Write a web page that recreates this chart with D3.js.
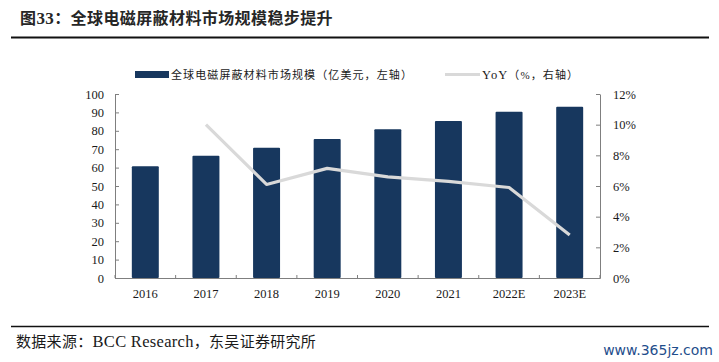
<!DOCTYPE html>
<html>
<head>
<meta charset="utf-8">
<script src="https://cdn.jsdelivr.net/npm/d3@7"></script>
<style>
  body { margin: 0; background: #fff; }
  svg { display: block; }
</style>
</head>
<body>
<div id="chart"></div>
<script>

// data
var years = ['2016', '2017', '2018', '2019', '2020', '2021', '2022E', '2023E'];
var market = [60.7, 66.5, 70.8, 75.5, 80.8, 85.3, 90.4, 93.1];
var yoy = [null, 10.0, 6.1, 7.15, 6.6, 6.3, 5.9, 2.8];
var leftTicks = [0, 10, 20, 30, 40, 50, 60, 70, 80, 90, 100];
var rightTicks = [0, 2, 4, 6, 8, 10, 12];

var chart_width  = 719;
var chart_height = 362;
var plot = { left: 115, right: 600, top: 94, bottom: 278 };

var serif = '"Liberation Serif", "Times New Roman", serif';
var cjk = '"Noto Sans CJK SC", sans-serif';

var svg = d3.select('#chart')
  .append('svg')
  .attr('width', chart_width)
  .attr('height', chart_height);

// writes text made of [string, isLatin] pieces, latin pieces in serif
function mixedText(el, parts) {
  parts.forEach(function(p) {
    el.append('tspan')
      .attr('font-family', p[1] ? serif : cjk)
      .text(p[0]);
  });
  return el;
}

// title
var title = svg.append('text')
  .attr('x', 20)
  .attr('y', 24)
  .attr('font-size', 16)
  .attr('font-weight', 700)
  .attr('letter-spacing', 0.4)
  .attr('fill', '#262626');
mixedText(title, [['图', false], ['33', true], ['：全球电磁屏蔽材料市场规模稳步提升', false]]);
title.select('tspan:nth-child(2)').attr('font-size', 17);

svg.append('line')
  .attr('x1', 11).attr('x2', 709)
  .attr('y1', 37.5).attr('y2', 37.5)
  .attr('stroke', '#111').attr('stroke-width', 2);

// scales
var x_scale = d3.scaleBand()
  .domain(years)
  .range([plot.left, plot.right])
  .paddingInner(0.555)
  .paddingOuter(0.2775);

var y_scale = d3.scaleLinear()
  .domain([0, 100])
  .range([plot.bottom, plot.top]);

var y2_scale = d3.scaleLinear()
  .domain([0, 12])
  .range([plot.bottom, plot.top]);

// bars
svg.selectAll('rect.bar')
  .data(market)
  .enter()
  .append('rect')
  .attr('class', 'bar')
  .attr('x', function(d, i) { return x_scale(years[i]); })
  .attr('y', function(d) { return y_scale(d); })
  .attr('width', x_scale.bandwidth())
  .attr('height', function(d) { return plot.bottom - y_scale(d); })
  .attr('rx', 1)
  .attr('fill', '#17375e');

// yoy line
var line = d3.line()
  .defined(function(d) { return d != null; })
  .x(function(d, i) { return x_scale(years[i]) + x_scale.bandwidth() / 2; })
  .y(function(d) { return y2_scale(d); });

svg.append('path')
  .datum(yoy)
  .attr('d', line)
  .attr('fill', 'none')
  .attr('stroke', '#d9d9d9')
  .attr('stroke-width', 3.2)
  .attr('stroke-linejoin', 'round');

// axes
var y_axis = d3.axisLeft(y_scale)
  .tickValues(leftTicks)
  .tickSizeInner(-4)
  .tickSizeOuter(0)
  .tickPadding(11);

var gl = svg.append('g')
  .attr('transform', 'translate(' + plot.left + ',0)')
  .call(y_axis);

var y2_axis = d3.axisRight(y2_scale)
  .tickValues(rightTicks)
  .tickFormat(function(d) { return d + '%'; })
  .tickSizeInner(-4)
  .tickSizeOuter(0)
  .tickPadding(13);

var gr = svg.append('g')
  .attr('transform', 'translate(' + plot.right + ',0)')
  .call(y2_axis);

var x_axis = d3.axisBottom(x_scale)
  .tickSize(0)
  .tickPadding(11);

var gx = svg.append('g')
  .attr('transform', 'translate(0,' + plot.bottom + ')')
  .call(x_axis);

// small ticks between categories on the x axis
var step = x_scale.step();
var bounds = d3.range(years.length + 1).map(function(i) { return plot.left + i * step; });
gx.selectAll('line.sep')
  .data(bounds)
  .enter()
  .append('line')
  .attr('class', 'sep')
  .attr('x1', function(d) { return d; })
  .attr('x2', function(d) { return d; })
  .attr('y1', 0)
  .attr('y2', -3)
  .attr('stroke', '#7f7f7f');

[gl, gr, gx].forEach(function(g) {
  g.selectAll('path.domain').attr('stroke', '#7f7f7f');
  g.selectAll('.tick line').attr('stroke', '#7f7f7f');
  g.selectAll('text')
    .attr('font-family', serif)
    .attr('font-size', 12.5)
    .attr('fill', '#1a1a1a');
});

// legend
var legend = svg.append('g');
legend.append('rect')
  .attr('x', 135).attr('y', 71)
  .attr('width', 34).attr('height', 7)
  .attr('fill', '#17375e');
legend.append('text')
  .attr('x', 171).attr('y', 79)
  .attr('font-family', cjk)
  .attr('font-size', 11)
  .attr('letter-spacing', 1.1)
  .attr('fill', '#1a1a1a')
  .text('全球电磁屏蔽材料市场规模（亿美元，左轴）');

legend.append('line')
  .attr('x1', 445).attr('x2', 480)
  .attr('y1', 74.5).attr('y2', 74.5)
  .attr('stroke', '#d9d9d9')
  .attr('stroke-width', 3);
var yoyLabel = legend.append('text')
  .attr('x', 482).attr('y', 79)
  .attr('font-size', 11)
  .attr('letter-spacing', 1.1)
  .attr('fill', '#1a1a1a');
mixedText(yoyLabel, [['YoY', true], ['（', false], ['%', true], ['，右轴）', false]]);
yoyLabel.select('tspan').attr('font-size', 12.5);

// footer
svg.append('line')
  .attr('x1', 11).attr('x2', 709)
  .attr('y1', 326.5).attr('y2', 326.5)
  .attr('stroke', '#111').attr('stroke-width', 1.5);

var source = svg.append('text')
  .attr('x', 16).attr('y', 347)
  .attr('font-size', 15)
  .attr('letter-spacing', 0.3)
  .attr('fill', '#1a1a1a');
mixedText(source, [['数据来源：', false], ['BCC Research', true], ['，东吴证券研究所', false]]);
source.select('tspan:nth-child(2)').attr('font-size', 16.5);

svg.append('text')
  .attr('x', 713).attr('y', 355)
  .attr('text-anchor', 'end')
  .attr('font-family', '"DejaVu Sans", sans-serif')
  .attr('font-size', 14)
  .attr('fill', '#1f4e8c')
  .text('www.365jz.com');

</script>
</body>
</html>
